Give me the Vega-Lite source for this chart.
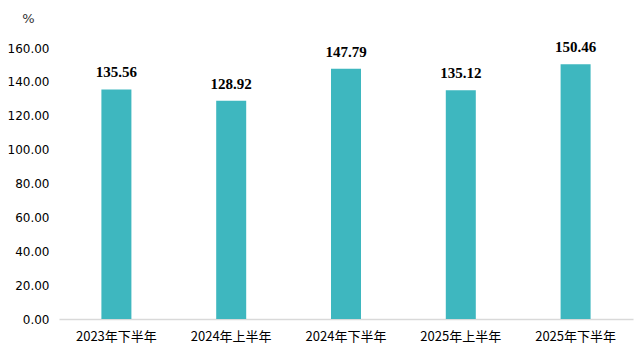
{
  "$schema": "https://vega.github.io/schema/vega-lite/v6.json",
  "width": 574,
  "height": 271,
  "autosize": {"type": "none"},
  "padding": {"left": 59, "top": 48, "right": 10, "bottom": 36},
  "background": "white",
  "config": {"view": {"stroke": null}},
  "data": {"values": [
    {"period": "2023年下半年", "value": 135.56},
    {"period": "2024年上半年", "value": 128.92},
    {"period": "2024年下半年", "value": 147.79},
    {"period": "2025年上半年", "value": 135.12},
    {"period": "2025年下半年", "value": 150.46}
  ]},
  "encoding": {
    "x": {"field": "period", "type": "nominal", "sort": null,
      "scale": {"paddingInner": 0, "paddingOuter": 0},
      "axis": {"title": null, "labelAngle": 0, "labelFont": "Noto Sans CJK SC", "labelFontSize": 13, "labelColor": "#000000", "ticks": false, "domainColor": "#D9D9D9", "domainWidth": 1.5, "labelPadding": 11}},
    "y": {"field": "value", "type": "quantitative",
      "scale": {"domain": [0, 160], "nice": false},
      "axis": {"values": [0, 20, 40, 60, 80, 100, 120, 140, 160], "format": ".2f", "grid": false, "domain": false, "ticks": false, "labelFont": "DejaVu Sans", "labelFontSize": 12, "labelColor": "#000000", "labelPadding": 10,
        "title": "%", "titleAngle": 0, "titleX": -31, "titleY": -30, "titleAlign": "center", "titleBaseline": "middle", "titleFont": "DejaVu Sans", "titleFontWeight": "normal", "titleFontSize": 13, "titleColor": "#333333"}}
  },
  "layer": [
    {"mark": {"type": "bar", "size": 30, "color": "#3EB7BF"}},
    {"mark": {"type": "text", "baseline": "bottom", "dy": -9, "font": "Liberation Serif", "fontWeight": "bold", "fontSize": 15, "color": "#000000"},
     "encoding": {"text": {"field": "value", "type": "quantitative", "format": ".2f"}}}
  ]
}
